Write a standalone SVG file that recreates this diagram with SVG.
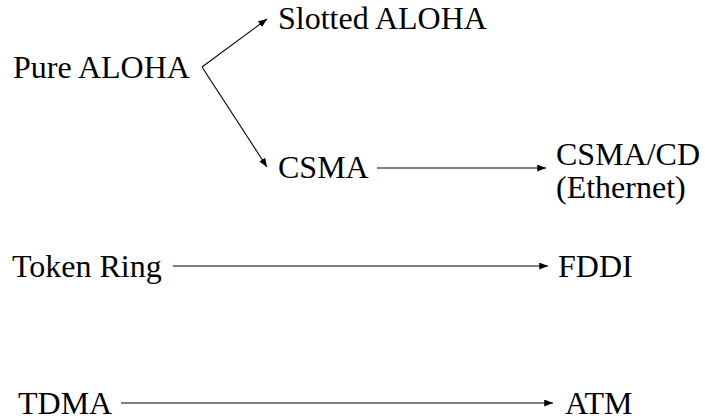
<svg xmlns="http://www.w3.org/2000/svg" width="705" height="420" viewBox="0 0 705 420">
  <style>
    text { font-family: 'Liberation Serif', 'DejaVu Serif', serif; font-size: 32px; fill: #000; }
    .edge { stroke: #000; stroke-width: 1.1; fill: none; marker-end: url(#tip); }
  </style>
  <defs>
    <marker id="tip" viewBox="0 0 10 8" refX="10" refY="4" markerWidth="9" markerHeight="7" markerUnits="userSpaceOnUse" orient="auto">
      <path d="M0,0 L10,4 L0,8 z" fill="#000"/>
    </marker>
  </defs>

  <g id="pure-aloha"><text x="13" y="78">Pure ALOHA</text></g>
  <g id="slotted-aloha"><text x="278" y="29">Slotted ALOHA</text></g>
  <g id="csma"><text x="278" y="178">CSMA</text></g>
  <g id="csma-cd">
    <text x="556" y="165">CSMA/CD</text>
    <text x="556" y="198">(Ethernet)</text>
  </g>
  <g id="token-ring"><text x="12" y="277">Token Ring</text></g>
  <g id="fddi"><text x="558" y="277">FDDI</text></g>
  <g id="tdma"><text x="18" y="414">TDMA</text></g>
  <g id="atm"><text x="565" y="414">ATM</text></g>

  <g id="connectors">
    <line class="edge" x1="202" y1="67" x2="267" y2="19"/>
    <line class="edge" x1="202" y1="67" x2="267" y2="167"/>
    <line class="edge" x1="377" y1="168" x2="546" y2="168"/>
    <line class="edge" x1="173" y1="266" x2="548" y2="266"/>
    <line class="edge" x1="121" y1="403" x2="553" y2="403"/>
  </g>
</svg>
